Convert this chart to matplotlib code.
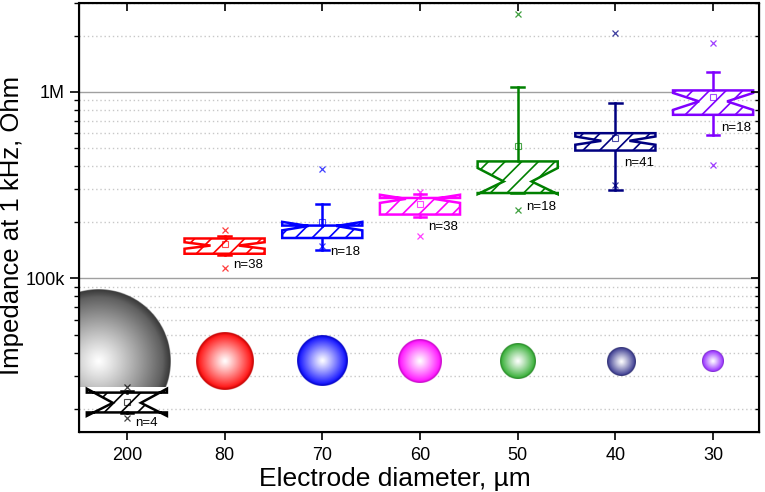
import numpy as np
import matplotlib
matplotlib.use('Agg')
import matplotlib.pyplot as plt
from matplotlib.patches import Polygon, Rectangle
from matplotlib.ticker import LogLocator, FixedLocator, FixedFormatter, NullFormatter

plt.rcParams['font.family'] = ['Liberation Sans', 'DejaVu Sans']
plt.rcParams['hatch.linewidth'] = 1.2

# electrode groups (diameter in um)
diameters = ['200', '80', '70', '60', '50', '40', '30']
diam_um = [200, 80, 70, 60, 50, 40, 30]
n_samples = [4, 38, 18, 38, 18, 41, 18]
colors = ['#000000', '#FF0000', '#0000FF', '#FF00FF', '#008000', '#000080', '#8000FF']

# box statistics (Ohm)
q1 = [19.1e3, 135.6e3, 164.7e3, 220e3, 287e3, 485e3, 754e3]
median = [21.5e3, 150e3, 191e3, 267e3, 331e3, 547e3, 890e3]
q3 = [24.4e3, 163.7e3, 192e3, 270e3, 424e3, 601e3, 1019e3]
ci_lo = [18.3e3, 144.2e3, 181e3, 254e3, 283e3, 521e3, 801e3]
ci_hi = [25.6e3, 156.3e3, 201e3, 281e3, 391e3, 577e3, 988e3]
whisk_lo = [18.9e3, 133.6e3, 141.7e3, 214e3, 287e3, 297e3, 589e3]
whisk_hi = [24.9e3, 168.4e3, 251.7e3, 285e3, 1067e3, 870e3, 1274e3]
mean = [21.8e3, 152e3, 201e3, 252e3, 510e3, 569e3, 944e3]
flier_hi = [26.0e3, 181e3, 387e3, 289e3, 2610e3, 2080e3, 1820e3]
flier_lo = [17.8e3, 114e3, 150e3, 168e3, 234e3, 318e3, 404e3]

sphere_base = ['#4a4a4a', '#FF0000', '#0000FF', '#FF00FF', '#2AAA2A', '#30308A', '#9020FF']

fig = plt.figure(figsize=(7.65, 4.92), dpi=100)
ax = fig.add_axes([79 / 765, 60 / 492, 680 / 765, 429 / 492])

ax.set_yscale('log')
ax.set_xlim(-0.49, 6.47)
ax.set_ylim(15e3, 3e6)
ax.set_autoscale_on(False)

# grid
ax.yaxis.set_major_locator(FixedLocator([1e5, 1e6]))
ax.yaxis.set_major_formatter(FixedFormatter(['100k', '1M']))
ax.yaxis.set_minor_locator(LogLocator(base=10, subs=np.arange(2, 10)))
ax.yaxis.set_minor_formatter(NullFormatter())
ax.grid(True, axis='y', which='major', color='#a0a0a0', lw=1.0, ls='-')
ax.grid(True, axis='y', which='minor', color='#c8c8c8', lw=1.0, ls=(0, (1, 2)))

# boxes
hw = 0.41
nx = hw * 0.35
cw = 0.065
for i in range(len(diameters)):
    c = colors[i]
    l, r = i - hw, i + hw
    verts = [(l, q1[i]), (r, q1[i]), (r, ci_lo[i]), (i + nx, median[i]),
             (r, ci_hi[i]), (r, q3[i]), (l, q3[i]), (l, ci_hi[i]),
             (i - nx, median[i]), (l, ci_lo[i])]
    ax.add_patch(Polygon(verts, closed=True, facecolor='white', edgecolor=c,
                         hatch='//', lw=1.8, zorder=3))
    ax.plot([i, i], [q3[i], whisk_hi[i]], color=c, lw=1.8, zorder=4)
    ax.plot([i, i], [q1[i], whisk_lo[i]], color=c, lw=1.8, zorder=4)
    ax.plot([i - cw, i + cw], [whisk_hi[i]] * 2, color=c, lw=1.8, zorder=4)
    ax.plot([i - cw, i + cw], [whisk_lo[i]] * 2, color=c, lw=1.8, zorder=4)
    ax.plot(i, mean[i], 's', mfc='none', mec=c, ms=4, mew=0.8, alpha=0.7, zorder=5)
    ax.plot([i, i], [flier_hi[i], flier_lo[i]], 'x', ls='none', color=c,
            ms=5, mew=0.9, alpha=0.75, zorder=5)

label_dy = [-1, -4, -6, -5, -5, -5, -5]
for i in range(len(diameters)):
    ax.annotate(f'n={n_samples[i]}', xy=(i, min(q1[i], ci_lo[i])),
                xytext=(6, label_dy[i]), textcoords='offset points',
                ha='left', va='top', fontsize=9.5, zorder=6)

# spheres showing electrode size
def sphere(color, size=256):
    yy, xx = np.mgrid[-1:1:size * 1j, -1:1:size * 1j]
    rr = np.hypot(xx, yy)
    t = np.clip(rr, 0, 1)[..., None] ** 1.1
    base = np.array(matplotlib.colors.to_rgb(color))
    rgb = (1 - t) * np.ones(3) + t * base
    rgb *= 1 - 0.25 * np.clip((t - 0.88) / 0.12, 0, 1)
    alpha = np.clip((1 - rr) * size / 2 + 0.5, 0, 1)
    return np.dstack([np.clip(rgb, 0, 1), alpha])

sphere_y = 36e3
sphere_dx = [-0.29, 0, 0, 0, 0, 0.06, 0]
px_per_um = 0.36
bb = ax.get_window_extent()
W, H = bb.width, bb.height
for i in range(len(diameters)):
    disp = ax.transData.transform((i + sphere_dx[i], sphere_y))
    fx, fy = ax.transAxes.inverted().transform(disp)
    rad = px_per_um * diam_um[i]
    im = ax.imshow(sphere(sphere_base[i]),
                   extent=[fx - rad / W, fx + rad / W, fy - rad / H, fy + rad / H],
                   transform=ax.transAxes, aspect='auto', interpolation='bilinear',
                   zorder=2)
    if i == 0:
        im.set_clip_path(Rectangle((0, 0.105), 1, 1, transform=ax.transAxes))

ax.set_xlim(-0.49, 6.47)
ax.set_ylim(15e3, 3e6)

ax.set_xticks(range(len(diameters)))
ax.set_xticklabels(diameters)
ax.tick_params(axis='both', which='major', labelsize=13, width=1.2)
ax.tick_params(axis='x', which='major', direction='out', length=6, pad=5)
ax.tick_params(axis='y', which='major', direction='out', length=6.3, pad=4)
ax.tick_params(axis='y', which='minor', direction='out', length=3.6, width=1.0)
for s in ax.spines.values():
    s.set_linewidth(1.5)

# mirrored ticks pointing inward
tx = ax.twiny()
tx.set_xlim(ax.get_xlim())
tx.set_xticks(range(len(diameters)))
tx.tick_params(axis='x', direction='in', length=6, width=1.2, labeltop=False)
ty = ax.twinx()
ty.set_yscale('log')
ty.set_ylim(ax.get_ylim())
ty.yaxis.set_major_locator(FixedLocator([1e5, 1e6]))
ty.yaxis.set_minor_locator(LogLocator(base=10, subs=np.arange(2, 10)))
ty.yaxis.set_minor_formatter(NullFormatter())
ty.tick_params(axis='y', which='major', direction='in', length=6, width=1.2, labelright=False)
ty.tick_params(axis='y', which='minor', direction='in', length=3.2, width=1.0)

ax.set_ylabel('Impedance at 1 kHz, Ohm', fontsize=18.5)
ax.yaxis.set_label_coords(-0.081, 0.4825)
ax.set_xlabel('Electrode diameter, µm', fontsize=19)
ax.xaxis.set_label_coords(0.465, -0.081)

fig.savefig('out.png', dpi=100)
